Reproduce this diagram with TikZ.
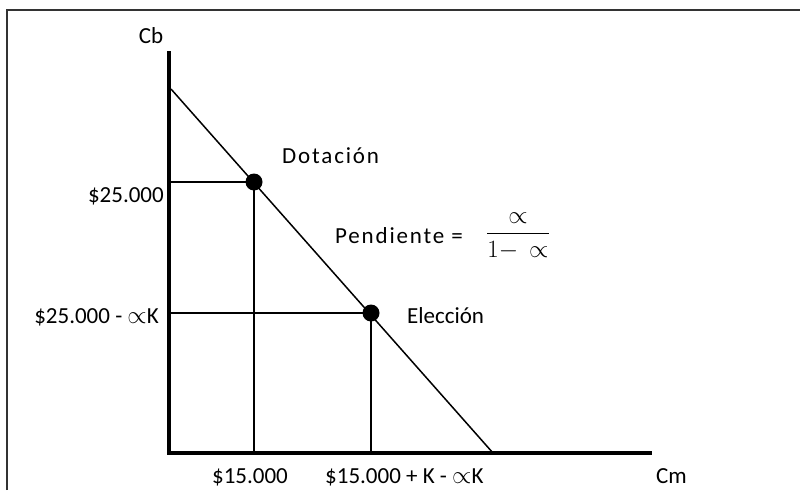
\documentclass[tikz,border=0pt]{standalone}
\usepackage{amsmath}
\usepackage{fontspec}
\setmainfont{Carlito}
\usetikzlibrary{positioning}

\begin{document}
\begin{tikzpicture}[x=1pt, y=-1pt, every node/.style={font=\fontsize{23}{27}\selectfont, inner sep=0pt},
    axis/.style={line width=4pt},
    guide/.style={line width=1.5pt},
    spaced/.style={font=\fontsize{23}{27}\selectfont\addfontfeatures{LetterSpace=8}},
    dotnode/.style={circle, fill=black, minimum size=17pt, inner sep=0pt}]
    \useasboundingbox (0,0) rectangle (800,490);
    \draw[line width=2pt, black!80] (7,490) -- (7,10) -- (800,10);
    % axes
    \coordinate (ytop) at (169,51);
    \coordinate (origin) at (169,453);
    \coordinate (xend) at (652,453);
    \draw[axis] (ytop) -- (169,455);
    \draw[axis] (167,453) -- (xend);
    % budget line
    \coordinate (linestart) at (171,89);
    \coordinate (lineend) at (493,453);
    \draw[guide] (linestart) -- (lineend);
    \node[dotnode] (dot) at (254,182) {};
    \node[dotnode] (elec) at (371,313) {};
    \draw[guide] (dot.center) -- (dot.center -| origin);
    \draw[guide] (dot.center) -- (dot.center |- origin);
    \draw[guide] (elec.center) -- (elec.center -| origin);
    \draw[guide] (elec.center) -- (elec.center |- origin);
    % labels
    \node[anchor=base] (cb) at (151,43) {Cb};
    \node[anchor=base east] (ylabA) at (164,202) {\$25.000};
    \node[anchor=base east] (ylabB) at (159,323) {\$25.000 - $\propto$K};
    \node[spaced, anchor=base west] (dotlab) at (282,163) {Dotación};
    \node[spaced, anchor=base west] (pend) at (335,243) {Pendiente =};
    \node (frac) at (518,236) {$\dfrac{\propto}{1{-}\,\propto}$};
    \node[anchor=base west] (eleclab) at (407,323) {Elección};
    \node[anchor=base] (xlabA) at (250,483) {\$15.000};
    \node[anchor=base west] (xlabB) at (325,483) {\$15.000 + K - $\propto$K};
    \node[anchor=base west] (cm) at (656,483) {Cm};
\end{tikzpicture}
\end{document}
